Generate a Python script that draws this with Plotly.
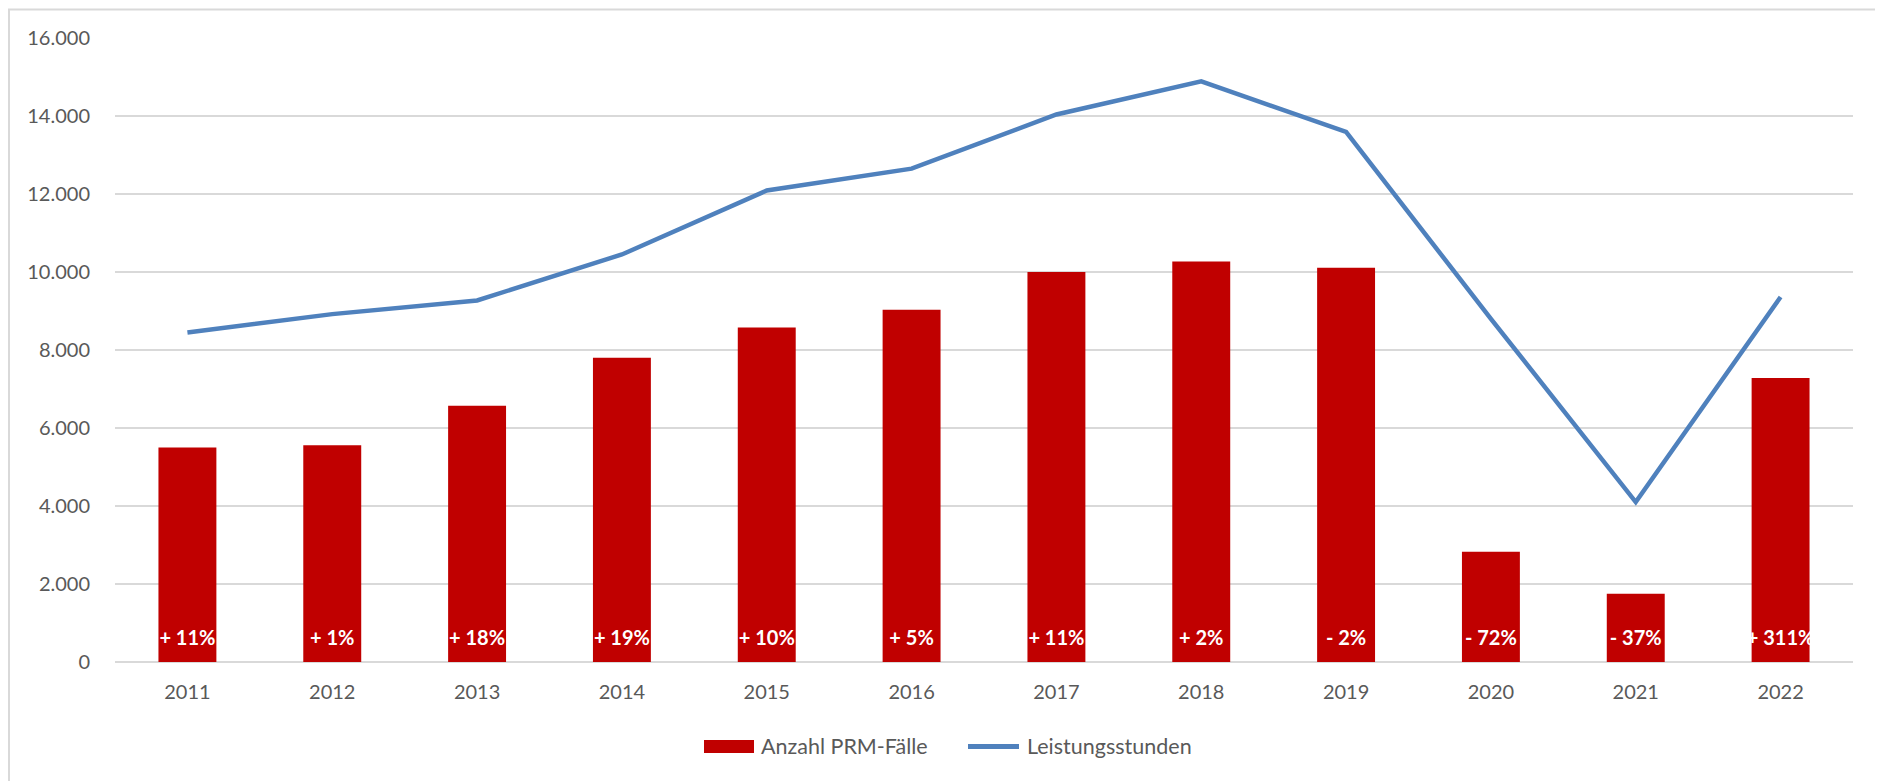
import plotly.graph_objects as go

years = ["2011", "2012", "2013", "2014", "2015", "2016", "2017", "2018", "2019", "2020", "2021", "2022"]
prm_cases = [5500, 5560, 6570, 7800, 8580, 9030, 10000, 10270, 10110, 2830, 1750, 7285]
service_hours = [8450, 8920, 9270, 10450, 12090, 12650, 14040, 14890, 13590, 8800, 4100, 9360]
change_labels = ["+ 11%", "+ 1%", "+ 18%", "+ 19%", "+ 10%", "+ 5%", "+ 11%", "+ 2%",
                 "- 2%", "- 72%", "- 37%", "+ 311%"]
y_ticks = [0, 2000, 4000, 6000, 8000, 10000, 12000, 14000, 16000]

# page has an 8px body margin; figure coordinates = page coordinates - 8
OFF = 8
W, H = 1883 - OFF, 781 - OFF
L, R, T, B = 115 - OFF, 30, 37.5 - OFF, 781 - 662
PW, PH = W - L - R, H - T - B
FONT = "Lato, 'Open Sans', sans-serif"
GREY = "#595959"
RED = "#c00000"
BLUE = "#4f81bd"
LABEL_Y = 560


def px(x):
    # page x -> paper x
    return (x - OFF - L) / PW


def py(y):
    # page y -> paper y
    return (H - B - (y - OFF)) / PH


fig = go.Figure()
fig.add_trace(go.Bar(x=years, y=prm_cases, name="Anzahl PRM-Fälle",
                     marker=dict(color=RED, line=dict(width=0)), width=0.4,
                     showlegend=False, hoverinfo="x+y"))
fig.add_trace(go.Scatter(x=years, y=[LABEL_Y] * len(years), mode="text", text=change_labels,
                         textfont=dict(family=FONT, size=20, color="white", weight="bold"),
                         textposition="middle center", showlegend=False, hoverinfo="skip"))
fig.add_trace(go.Scatter(x=years, y=service_hours, name="Leistungsstunden", mode="lines",
                         line=dict(color=BLUE, width=4.5), showlegend=False))

LEG_Y = 746.5
shapes = [
    dict(type="rect", xref="paper", yref="paper", x0=px(9), x1=px(1881), y0=py(783), y1=py(9),
         line=dict(color="#d9d9d9", width=2), fillcolor="rgba(0,0,0,0)", layer="below"),
    dict(type="rect", xref="paper", yref="paper", x0=px(704), x1=px(754), y0=py(753), y1=py(740),
         line=dict(width=0), fillcolor=RED),
    dict(type="line", xref="paper", yref="paper", x0=px(968), x1=px(1019), y0=py(LEG_Y), y1=py(LEG_Y),
         line=dict(color=BLUE, width=5)),
]
annotations = [
    dict(xref="paper", yref="paper", x=px(759), y=py(LEG_Y), xanchor="left", yanchor="middle",
         text="Anzahl PRM-Fälle", showarrow=False, font=dict(family=FONT, size=21.5, color=GREY)),
    dict(xref="paper", yref="paper", x=px(1025), y=py(LEG_Y), xanchor="left", yanchor="middle",
         text="Leistungsstunden", showarrow=False, font=dict(family=FONT, size=21.5, color=GREY)),
]

fig.update_layout(
    width=W, height=H, autosize=False,
    margin=dict(l=L, r=R, t=T, b=B, pad=0),
    paper_bgcolor="white", plot_bgcolor="white",
    separators=",.",
    font=dict(family=FONT, size=20, color=GREY),
    shapes=shapes, annotations=annotations,
    showlegend=False,
    xaxis=dict(type="category", range=[-0.5, len(years) - 0.5], showgrid=False, showline=False,
               ticks="", tickfont=dict(family=FONT, size=20, color=GREY), ticklabelstandoff=16),
    yaxis=dict(range=[0, 16000], tickvals=y_ticks, tickformat=",d", showgrid=True,
               gridcolor="#d9d9d9", gridwidth=1.5, zeroline=True, zerolinecolor="#d9d9d9",
               zerolinewidth=1.5, showline=False, ticks="",
               tickfont=dict(family=FONT, size=20, color=GREY), ticklabelstandoff=24),
)

fig.write_html("out.html")
